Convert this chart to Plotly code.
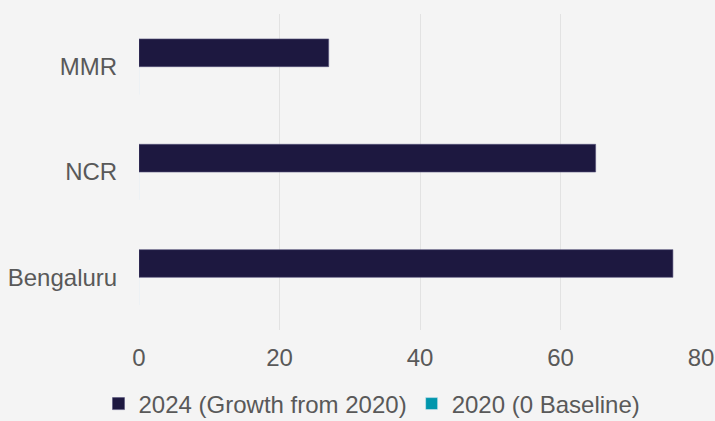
import plotly.graph_objects as go

categories = ["Bengaluru", "NCR", "MMR"]
growth_2024 = [76, 65, 27]
baseline_2020 = [0, 0, 0]
x_ticks = [0, 20, 40, 60, 80]

FONT = "Arial, Liberation Sans, sans-serif"
TEXT = "#595959"
BG = "#f4f4f4"

fig = go.Figure()
fig.add_trace(go.Bar(
    y=categories, x=baseline_2020, orientation="h",
    name="2020 (0 Baseline)", marker=dict(color="#0096ac"),
    legendrank=2,
))
fig.add_trace(go.Bar(
    y=categories, x=growth_2024, orientation="h",
    name="2024 (Growth from 2020)",
    marker=dict(color="#1d1840", line=dict(color="#55527a", width=0.6)),
    legendrank=1,
))

fig.update_layout(
    width=715, height=421,
    paper_bgcolor=BG, plot_bgcolor=BG,
    margin=dict(l=139, r=14, t=14, b=91, autoexpand=False),
    barmode="group", bargap=0.474, bargroupgap=0,
    font=dict(family=FONT, size=24, color=TEXT),
    showlegend=True,
    legend=dict(
        orientation="h", xref="container", x=372 / 715, xanchor="center",
        yref="container", y=1 - 404 / 421, yanchor="middle",
        font=dict(size=24, color=TEXT),
        bgcolor="rgba(0,0,0,0)", itemwidth=30, traceorder="normal",
    ),
    hovermode=False,
)
fig.update_xaxes(
    range=[0, 80], tickvals=x_ticks, showgrid=True, gridcolor="#e2e2e2",
    gridwidth=1, zeroline=False, showline=False, automargin=False,
    ticks="outside", ticklen=6, tickcolor=BG,
    tickfont=dict(size=24, color=TEXT),
)
fig.update_yaxes(
    categoryorder="array", categoryarray=categories,
    showgrid=False, zeroline=False, showline=False, automargin=False,
    ticks="outside", ticklen=16, tickcolor=BG,
    tickfont=dict(size=24, color=TEXT),
)

fig.write_html(
    "out.html",
    config={"displayModeBar": False},
    post_script="document.body.style.margin='0';document.body.style.overflow='hidden';",
)
